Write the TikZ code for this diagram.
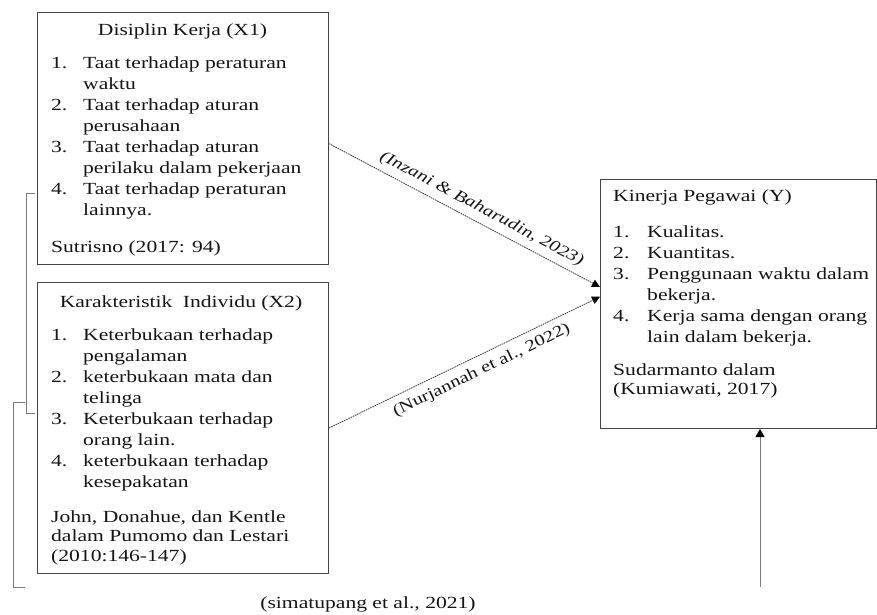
\documentclass[tikz,border=0pt]{standalone}
\usepackage{fontspec}
\setmainfont{Liberation Serif}[FakeStretch=1.27]
\usetikzlibrary{arrows.meta,calc}
\definecolor{boxc}{HTML}{454545}
\definecolor{linec}{HTML}{7A7A7A}
\definecolor{conc}{HTML}{3A3A3A}
\definecolor{txtc}{HTML}{141414}
\begin{document}
\begin{tikzpicture}[x=1pt,y=-1pt,
  box/.style={draw=boxc, line width=1pt, inner sep=0pt, anchor=north west},
  txtn/.style={text=txtc, inner sep=0pt, font=\fontsize{17}{21}\selectfont},
  cite/.style={text=txtc, inner sep=0pt, font=\fontsize{17}{19.5}\selectfont},
  lab/.style={text=txtc, inner sep=0pt, font=\fontsize{16}{19}\selectfont},
  conn/.style={draw=conc, line width=0.8pt, dash pattern=on 1.6pt off 0.8pt, -{Triangle[length=8pt,width=8pt,color=black,fill=black]}},
  brk/.style={draw=linec, line width=0.9pt},
  vline/.style={draw=linec, line width=0.9pt, -{Triangle[length=8pt,width=9pt,color=black,fill=black]}}
]
\useasboundingbox (0,0) rectangle (877,614);

% boxes
\node[box, minimum width=291pt, minimum height=252pt] (x1) at (37,12) {};
\node[box, minimum width=291pt, minimum height=291pt] (x2) at (37,282) {};
\node[box, minimum width=276pt, minimum height=249pt] (y) at (600,179) {};

% X1 text
\node[txtn, anchor=base] (x1t) at (182.5,35) {Disiplin Kerja (X1)};
\node[txtn, anchor=base west] (x1l) at (51,68) {\begin{tabular}[t]{@{}p{32pt}@{}l@{}}
1. & Taat terhadap peraturan\\
   & waktu\\
2. & Taat terhadap aturan\\
   & perusahaan\\
3. & Taat terhadap aturan\\
   & perilaku dalam pekerjaan\\
4. & Taat terhadap peraturan\\
   & lainnya.
\end{tabular}};
\node[txtn, anchor=base west] (x1c) at (51,252) {Sutrisno (2017: 94)};

% X2 text
\node[txtn, anchor=base] (x2t) at (181,307) {Karakteristik\hspace{5pt} Individu (X2)};
\node[txtn, anchor=base west] (x2l) at (51,340) {\begin{tabular}[t]{@{}p{32pt}@{}l@{}}
1. & Keterbukaan terhadap\\
   & pengalaman\\
2. & keterbukaan mata dan\\
   & telinga\\
3. & Keterbukaan terhadap\\
   & orang lain.\\
4. & keterbukaan terhadap\\
   & kesepakatan
\end{tabular}};
\node[cite, anchor=base west] (x2c) at (51,522) {\begin{tabular}[t]{@{}l@{}}
John, Donahue, dan Kentle\\
dalam Pumomo dan Lestari\\
(2010:146-147)
\end{tabular}};

% Y text
\node[txtn, anchor=base west] (yt) at (613,201) {Kinerja Pegawai (Y)};
\node[txtn, anchor=base west] (yl) at (613,237) {\begin{tabular}[t]{@{}p{34pt}@{}l@{}}
1. & Kualitas.\\
2. & Kuantitas.\\
3. & Penggunaan waktu dalam\\
   & bekerja.\\
4. & Kerja sama dengan orang\\
   & lain dalam bekerja.
\end{tabular}};
\node[cite, anchor=base west] (yc) at (613,375) {\begin{tabular}[t]{@{}l@{}}
Sudarmanto dalam\\
(Kumiawati, 2017)
\end{tabular}};

% connectors
\draw[conn] (x1.-2) -- node[lab, sloped, above=6pt, pos=0.54, font=\fontsize{16}{19}\selectfont\itshape] (l1) {(Inzani \& Baharudin, 2023)} (y.173);
\draw[conn] (x2.east) -- node[lab, sloped, below=7pt, pos=0.54] (l2) {(Nurjannah et al., 2022)} (y.177);

% brackets
\coordinate (b1a) at (35,193);
\coordinate (b1b) at (35,413);
\draw[brk] (b1a) -- (26,193) -- (26,413) -- (b1b);
\coordinate (b2a) at (25,402);
\coordinate (b2b) at (25,587);
\draw[brk] (b2a) -- (13,402) -- (13,587) -- (b2b);

% vertical arrow
\coordinate (vb) at (760,587);
\draw[vline] (vb) -- (vb |- y.south);

\node[lab, font=\fontsize{17}{19}\selectfont, anchor=base] (l3) at (368,608) {(simatupang et al., 2021)};
\end{tikzpicture}
\end{document}
